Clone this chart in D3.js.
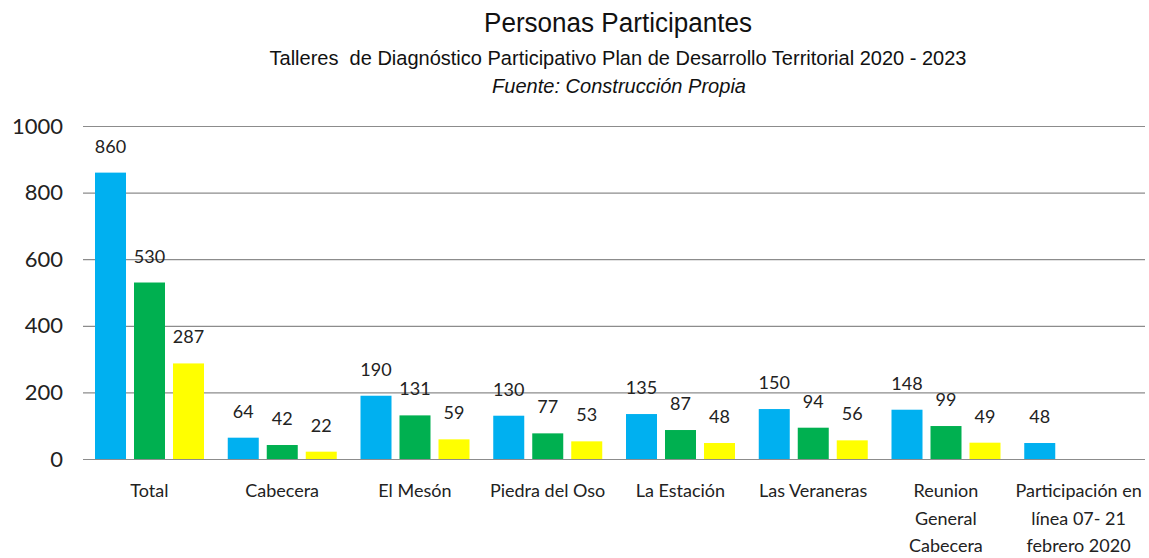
<!DOCTYPE html>
<html>
<head>
<meta charset="utf-8">
<script src="https://cdn.jsdelivr.net/npm/d3@7"></script>
<style>
  body { margin: 0; background: #fff; }
  svg { display: block; }
</style>
</head>
<body>
<script>
// Data
const categories = ["Total", "Cabecera", "El Mesón", "Piedra del Oso", "La Estación",
  "Las Veraneras", "Reunion General Cabecera", "Participación en línea 07- 21 febrero 2020"];
const categoryLines = [["Total"], ["Cabecera"], ["El Mesón"], ["Piedra del Oso"], ["La Estación"],
  ["Las Veraneras"], ["Reunion", "General", "Cabecera"], ["Participación en", "línea 07- 21", "febrero 2020"]];
const seriesA = [860, 64, 190, 130, 135, 150, 148, 48];
const seriesB = [530, 42, 131, 77, 87, 94, 99, null];
const seriesC = [287, 22, 59, 53, 48, 56, 49, null];
const seriesNames = ["A", "B", "C"];
const seriesColors = ["#00B0F0", "#00B050", "#FFFF00"];
const yTicks = [0, 200, 400, 600, 800, 1000];

const width = 1149, height = 558;
const margin = { top: 126, right: 4, bottom: 99, left: 83 };
const plotW = width - margin.left - margin.right;
const plotH = height - margin.top - margin.bottom;

const svg = d3.select("body").append("svg")
  .attr("width", width)
  .attr("height", height);

// Titles (narrow font squeezed to the reference widths)
const titleFont = "'Liberation Sans Narrow', 'Arial Narrow', 'Liberation Sans', Arial, sans-serif";
svg.append("text").attr("x", 618).attr("y", 32).attr("text-anchor", "middle")
  .style("font-family", titleFont)
  .style("font-size", "27px").attr("fill", "#111")
  .attr("textLength", 268).attr("lengthAdjust", "spacingAndGlyphs")
  .text("Personas Participantes");
svg.append("text").attr("x", 618).attr("y", 65).attr("text-anchor", "middle")
  .style("font-family", titleFont)
  .style("font-size", "20.5px").attr("fill", "#111")
  .attr("xml:space", "preserve")
  .attr("textLength", 697).attr("lengthAdjust", "spacingAndGlyphs")
  .text("Talleres  de Diagnóstico Participativo Plan de Desarrollo Territorial 2020 - 2023");
svg.append("text").attr("x", 619).attr("y", 93).attr("text-anchor", "middle")
  .style("font-family", titleFont)
  .style("font-size", "20.5px").style("font-style", "italic").attr("fill", "#111")
  .attr("textLength", 254).attr("lengthAdjust", "spacingAndGlyphs")
  .text("Fuente: Construcción Propia");

const g = svg.append("g").attr("transform", `translate(${margin.left},${margin.top})`);

const x0 = d3.scaleBand().domain(categories).range([0, plotW]).paddingInner(0).paddingOuter(0);
const x1 = d3.scaleBand().domain(seriesNames).range([12, 121]).paddingInner(0.205).paddingOuter(0);
const y = d3.scaleLinear().domain([0, 1000]).range([plotH, 0]);

// Grid
const yAxis = g.append("g")
  .call(d3.axisLeft(y).tickValues(yTicks).tickSize(-plotW).tickPadding(20).tickFormat(d3.format("d")));
yAxis.select(".domain").remove();
yAxis.selectAll(".tick line").attr("stroke", "#8c8c8c").attr("stroke-width", 1.2);
yAxis.selectAll(".tick text")
  .style("font-family", "Lato, 'Open Sans', sans-serif")
  .style("font-size", "22px").attr("fill", "#222");

const series = [seriesA, seriesB, seriesC];
const rows = [];
series.forEach((vals, si) => {
  vals.forEach((v, ci) => {
    if (v != null) rows.push({ s: seriesNames[si], color: seriesColors[si], cat: categories[ci], v });
  });
});

g.selectAll("rect.bar").data(rows).join("rect")
  .attr("class", "bar")
  .attr("x", d => x0(d.cat) + x1(d.s))
  .attr("y", d => y(d.v))
  .attr("width", x1.bandwidth())
  .attr("height", d => plotH - y(d.v))
  .attr("fill", d => d.color);

g.selectAll("text.val").data(rows).join("text")
  .attr("class", "val")
  .attr("x", d => x0(d.cat) + x1(d.s) + x1.bandwidth() / 2)
  .attr("y", d => y(d.v) - 20)
  .attr("text-anchor", "middle")
  .style("font-family", "Lato, 'Open Sans', sans-serif")
  .style("font-size", "18px").attr("fill", "#222")
  .text(d => d.v);

// X labels
const xl = g.selectAll("text.cat").data(categories).join("text")
  .attr("class", "cat")
  .attr("text-anchor", "middle")
  .style("font-family", "Lato, 'Open Sans', sans-serif")
  .style("font-size", "18px").attr("fill", "#222");
xl.each(function(d, i) {
  const t = d3.select(this);
  categoryLines[i].forEach((line, li) => {
    t.append("tspan")
      .attr("x", x0(d) + x0.bandwidth() / 2)
      .attr("y", plotH + 38 + li * 27.5)
      .text(line);
  });
});
</script>
</body>
</html>
